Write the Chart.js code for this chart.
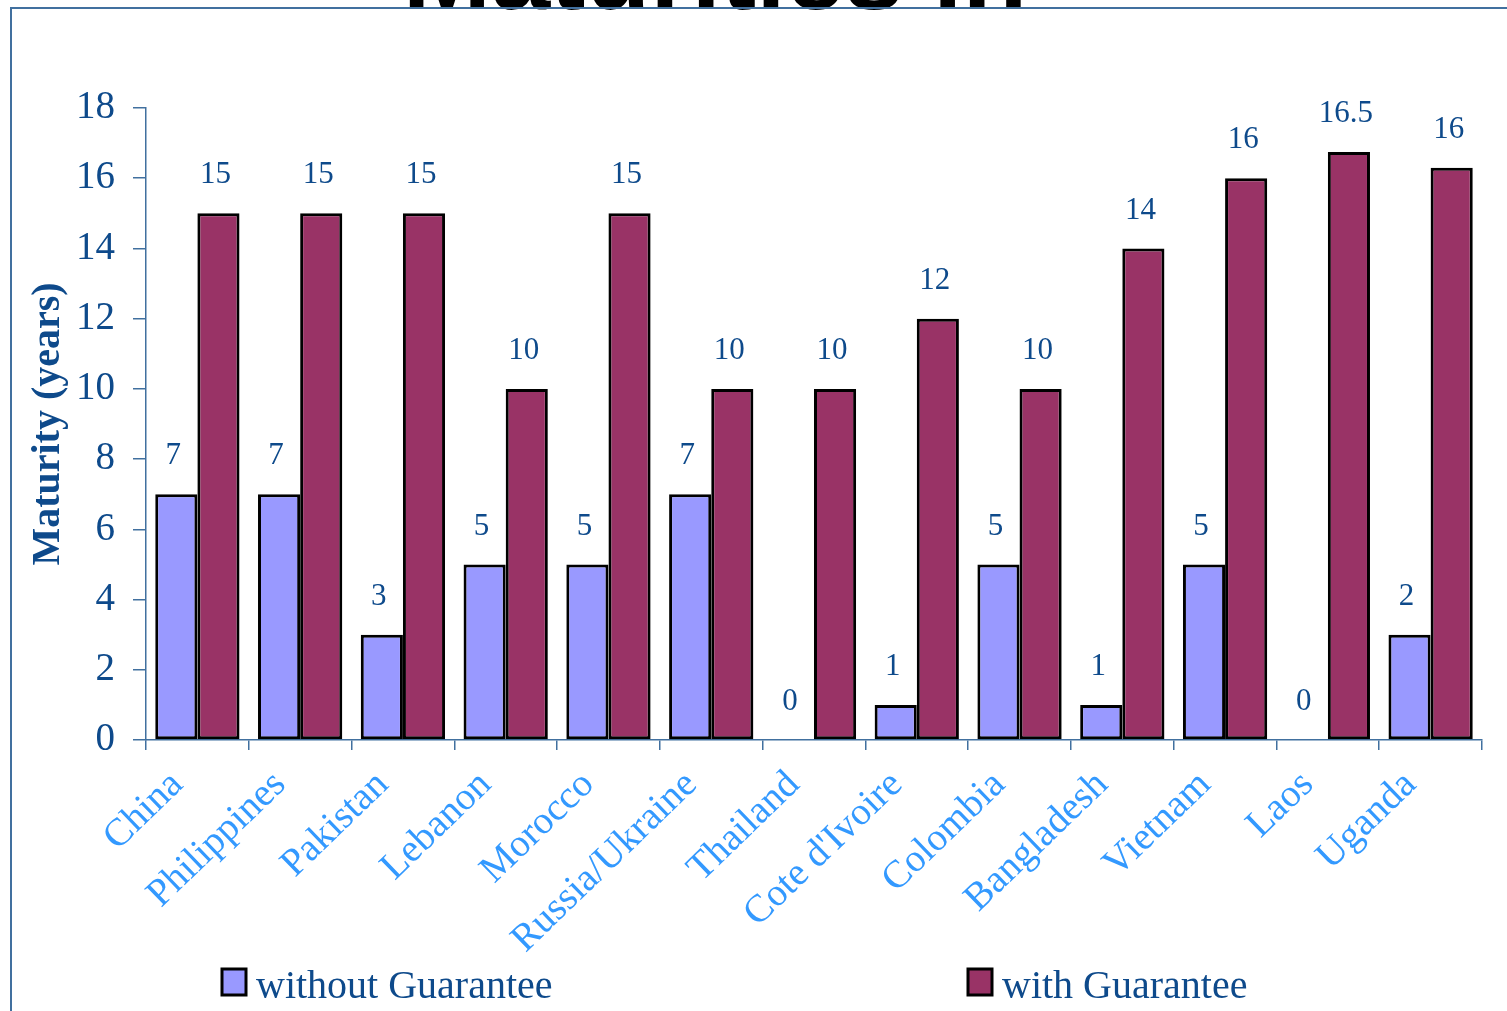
<!DOCTYPE html>
<html>
<head>
<meta charset="utf-8">
<script src="https://cdn.jsdelivr.net/npm/chart.js@4.4.0/dist/chart.umd.min.js"></script>
<style>
  body { margin: 0; background: #fff; overflow: hidden; }
  #wrap { position: relative; width: 1507px; height: 1011px; }
  #frame { position: absolute; left: 10px; top: 7px; right: 0; bottom: 0; border-left: 2px solid #41709f; border-top: 2px solid #41709f; }
  #title { position: absolute; left: 0; width: 1430px; top: -88px; text-align: center; font: bold 106px "Liberation Sans", Arial, sans-serif; color: #000; }
  canvas { position: absolute; left: 0; top: 0; }
</style>
</head>
<body>
<div id="wrap">
  <div id="title">Maturities in</div>
  <div id="frame"></div>
  <canvas id="maturityChart" width="1507" height="1011"></canvas>
</div>
<script>
// 국가
var countries = ['China', 'Philippines', 'Pakistan', 'Lebanon', 'Morocco', 'Russia/Ukraine', 'Thailand',
                 "Cote d'Ivoire", 'Colombia', 'Bangladesh', 'Vietnam', 'Laos', 'Uganda'];

// 보증 없음 / 보증 있음 (막대 높이)
var withoutGuarantee = [7, 7, 3, 5, 5, 7, 0, 1, 5, 1, 5, 0, 3];
var withGuarantee = [15, 15, 15, 10, 15, 10, 10, 12, 10, 14, 16, 16.75, 16.3];

// 막대 위 표시 값
var withoutLabels = ['7', '7', '3', '5', '5', '7', '0', '1', '5', '1', '5', '0', '2'];
var withLabels = ['15', '15', '15', '10', '15', '10', '10', '12', '10', '14', '16', '16.5', '16'];

var yTicks = [0, 2, 4, 6, 8, 10, 12, 14, 16, 18];

var darkBlue = '#0e4a8b';
var axisBlue = '#41709f';

// 값 라벨
var valueLabels = {
    id: 'valueLabels',
    afterDatasetsDraw: function(chart) {
        var ctx = chart.ctx;
        var texts = [withoutLabels, withLabels];
        ctx.save();
        ctx.font = '31px "Liberation Serif", serif';
        ctx.fillStyle = darkBlue;
        ctx.textAlign = 'center';
        ctx.textBaseline = 'middle';
        chart.data.datasets.forEach(function(ds, i) {
            chart.getDatasetMeta(i).data.forEach(function(bar, j) {
                ctx.fillText(texts[i][j], bar.x - 3, bar.y - 38);
            });
        });
        ctx.restore();
    }
};

// 범례
var bottomLegend = {
    id: 'bottomLegend',
    afterDraw: function(chart) {
        var ctx = chart.ctx;
        var xs = [222, 968];
        ctx.save();
        ctx.font = '40px "Liberation Serif", serif';
        ctx.textBaseline = 'alphabetic';
        chart.data.datasets.forEach(function(ds, i) {
            ctx.fillStyle = ds.backgroundColor;
            ctx.fillRect(xs[i], 969, 24, 26);
            ctx.lineWidth = 3;
            ctx.strokeStyle = '#000';
            ctx.strokeRect(xs[i], 969, 24, 26);
            ctx.fillStyle = darkBlue;
            ctx.fillText(ds.label, xs[i] + 34, 998);
        });
        ctx.restore();
    }
};

new Chart(document.getElementById('maturityChart').getContext('2d'), {
    type: 'bar',
    data: {
        labels: countries,
        datasets: [
            {
                label: 'without Guarantee',
                data: withoutGuarantee,
                backgroundColor: '#9999ff',
                borderColor: '#000',
                borderWidth: 3,
                borderSkipped: false
            },
            {
                label: 'with Guarantee',
                data: withGuarantee,
                backgroundColor: '#993366',
                borderColor: '#000',
                borderWidth: 3,
                borderSkipped: false
            }
        ]
    },
    options: {
        responsive: false,
        animation: false,
        categoryPercentage: 0.82,
        barPercentage: 1.0,
        layout: { padding: { top: 108, right: 25, left: 25, bottom: 0 } },
        plugins: {
            legend: { display: false },
            tooltip: { enabled: false }
        },
        scales: {
            x: {
                grid: {
                    offset: true,
                    drawOnChartArea: false,
                    color: axisBlue,
                    tickLength: 10,
                    lineWidth: 1.5
                },
                border: { color: axisBlue, width: 1.5 },
                ticks: {
                    color: '#3399ff',
                    font: { family: '"Liberation Serif", serif', size: 39 },
                    minRotation: 44,
                    maxRotation: 44,
                    padding: 12,
                    labelOffset: -20,
                    autoSkip: false
                },
                afterFit: function(scale) { scale.height = 271; }
            },
            y: {
                min: 0,
                max: 18,
                afterBuildTicks: function(scale) {
                    scale.ticks = yTicks.map(function(v) { return { value: v }; });
                },
                grid: {
                    drawOnChartArea: false,
                    color: axisBlue,
                    tickLength: 13,
                    lineWidth: 1.5
                },
                border: { color: axisBlue, width: 1.5 },
                ticks: {
                    color: darkBlue,
                    font: { family: '"Liberation Serif", serif', size: 39 },
                    padding: 18
                },
                title: {
                    display: true,
                    text: 'Maturity (years)',
                    color: darkBlue,
                    font: { family: '"Liberation Serif", serif', size: 40, weight: 'bold' },
                    padding: 0
                },
                afterFit: function(scale) { scale.width = 121; }
            }
        }
    },
    plugins: [valueLabels, bottomLegend]
});
</script>
</body>
</html>
